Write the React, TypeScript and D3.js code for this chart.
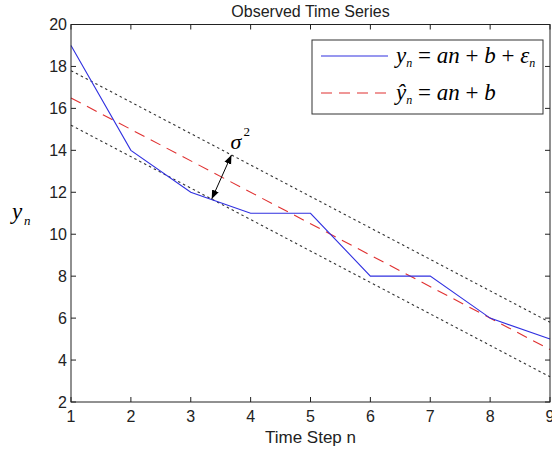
import React from "react";
import * as d3 from "d3";

const steps = [1, 2, 3, 4, 5, 6, 7, 8, 9];
const observed = [19, 14, 12, 11, 11, 8, 8, 6, 5];
const fitStart = 16.5;
const fitEnd = 4.5;
const bandHalfWidth = 1.3;
const xTicks = [1, 2, 3, 4, 5, 6, 7, 8, 9];
const yTicks = [2, 4, 6, 8, 10, 12, 14, 16, 18, 20];
const title = "Observed Time Series";
const xLabel = "Time Step n";

export default function App() {
  const W = 552, H = 452;
  const left = 71, right = 550, top = 24.5, bottom = 402;
  const x = d3.scaleLinear().domain([1, 9]).range([left, right]);
  const y = d3.scaleLinear().domain([2, 20]).range([bottom, top]);
  const fit = (n: number) => fitStart + ((fitEnd - fitStart) * (n - 1)) / 8;
  const line = d3.line<[number, number]>().x(d => x(d[0])).y(d => y(d[1]));
  const obsPts: [number, number][] = steps.map((s, i) => [s, observed[i]]);
  const fitPts: [number, number][] = [[1, fit(1)], [9, fit(9)]];
  const upPts: [number, number][] = [[1, fit(1) + bandHalfWidth], [9, fit(9) + bandHalfWidth]];
  const loPts: [number, number][] = [[1, fit(1) - bandHalfWidth], [9, fit(9) - bandHalfWidth]];
  const sans = "Liberation Sans, Arial, sans-serif";
  const serif = "Liberation Serif, Times New Roman, serif";
  const tl = 5;
  const an = 3.35;
  const a1: [number, number] = [x(an), y(fit(an) - bandHalfWidth)];
  const a2: [number, number] = [x(an + 0.33), y(fit(an + 0.33) + bandHalfWidth)];
  return (
    <svg width={W} height={H} style={{ position: "absolute", left: 0, top: 0, background: "#fff" }}>
      <defs>
        <marker id="ah" viewBox="0 0 10 10" refX="10" refY="5" markerWidth="9" markerHeight="9" orient="auto-start-reverse" markerUnits="userSpaceOnUse">
          <path d="M0,1 L10,5 L0,9 z" fill="#000" />
        </marker>
      </defs>
      <text x={(left + right) / 2} y={17} textAnchor="middle" fontFamily={sans} fontSize={16} fill="#222">{title}</text>
      <path d={line(upPts)!} stroke="#333" strokeWidth={1.1} strokeDasharray="2.5,3" fill="none" />
      <path d={line(loPts)!} stroke="#333" strokeWidth={1.1} strokeDasharray="2.5,3" fill="none" />
      <path d={line(fitPts)!} stroke="#e03030" strokeWidth={1.1} strokeDasharray="11,7" fill="none" />
      <path d={line(obsPts)!} stroke="#3030e0" strokeWidth={1.1} fill="none" />
      <line x1={a1[0]} y1={a1[1]} x2={a2[0]} y2={a2[1]} stroke="#000" strokeWidth={1} markerStart="url(#ah)" markerEnd="url(#ah)" />
      <text x={a2[0] - 1} y={a2[1] - 6} fontFamily={serif} fontStyle="italic" fontSize={22}>σ</text>
      <text x={a2[0] + 12} y={a2[1] - 19} fontFamily={serif} fontSize={13}>2</text>
      <rect x={left} y={top} width={right - left} height={bottom - top} fill="none" stroke="#222" strokeWidth={1} />
      {xTicks.map(t => (
        <g key={"x" + t}>
          <line x1={x(t)} x2={x(t)} y1={bottom} y2={bottom - tl} stroke="#222" />
          <line x1={x(t)} x2={x(t)} y1={top} y2={top + tl} stroke="#222" />
          <text x={x(t)} y={bottom + 20} textAnchor="middle" fontFamily={sans} fontSize={16} fill="#222">{t}</text>
        </g>
      ))}
      {yTicks.map(t => (
        <g key={"y" + t}>
          <line x1={left} x2={left + tl} y1={y(t)} y2={y(t)} stroke="#222" />
          <line x1={right} x2={right - tl} y1={y(t)} y2={y(t)} stroke="#222" />
          <text x={left - 4} y={y(t) + 5.5} textAnchor="end" fontFamily={sans} fontSize={16} fill="#222">{t}</text>
        </g>
      ))}
      <text x={(left + right) / 2} y={443} textAnchor="middle" fontFamily={sans} fontSize={17} fill="#222">{xLabel}</text>
      <text x={12} y={219} fontFamily={serif} fontStyle="italic" fontSize={23}>y</text>
      <text x={24} y={225} fontFamily={serif} fontStyle="italic" fontSize={13}>n</text>
      <g>
        <rect x={312} y={40} width={231} height={74} fill="#fff" stroke="#333" strokeWidth={1} />
        <line x1={321} x2={388} y1={56} y2={56} stroke="#3030e0" strokeWidth={1.1} />
        <line x1={321} x2={388} y1={93} y2={93} stroke="#e03030" strokeWidth={1.1} strokeDasharray="11,7" />
        <text x={396} y={63} fontFamily={serif} fontStyle="italic" fontSize={23}>
          y<tspan fontSize={12} dy={4}>n</tspan><tspan dy={-4} fontStyle="normal"> = </tspan>an<tspan fontStyle="normal"> + </tspan>b<tspan fontStyle="normal"> + </tspan>ε<tspan fontSize={12} dy={4}>n</tspan>
        </text>
        <text x={396} y={100} fontFamily={serif} fontStyle="italic" fontSize={23}>
          ŷ<tspan fontSize={12} dy={4}>n</tspan><tspan dy={-4} fontStyle="normal"> = </tspan>an<tspan fontStyle="normal"> + </tspan>b
        </text>
      </g>
    </svg>
  );
}
